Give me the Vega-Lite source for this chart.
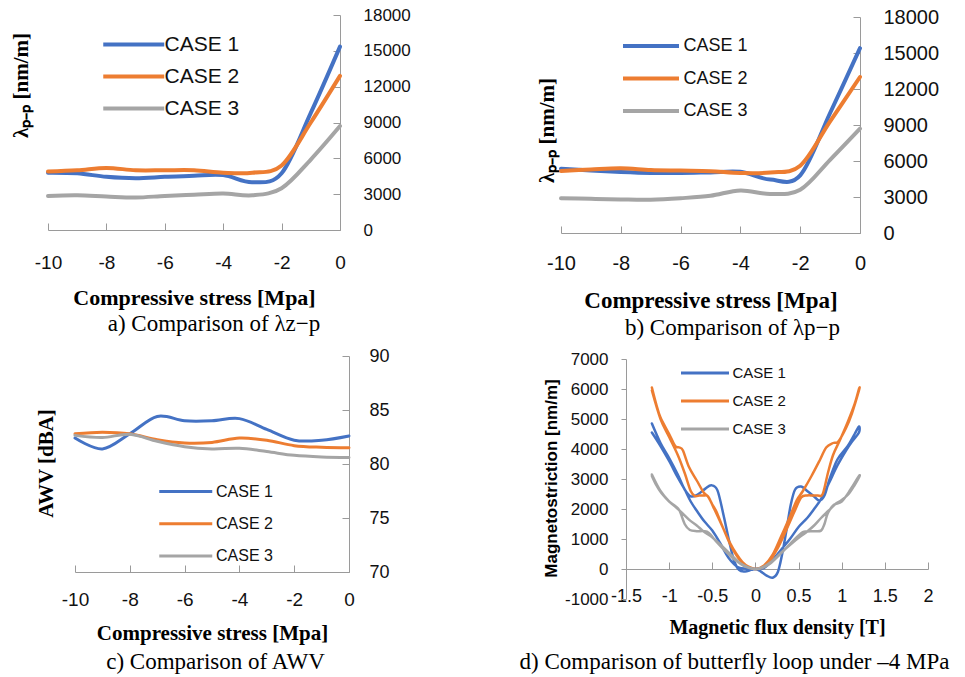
{
  "$schema": "https://vega.github.io/schema/vega-lite/v6.json",
  "background": "white",
  "autosize": {"type": "pad"},
  "padding": {"left": 10, "top": 6, "right": 5, "bottom": 5},
  "columns": 2,
  "spacing": {"row": 123, "column": 212},
  "bounds": "flush",
  "align": "each",
  "resolve": {"scale": {"x": "independent", "y": "independent", "color": "independent"}, "legend": {"color": "independent"}},
  "config": {
    "view": {"stroke": null},
    "axis": {"grid": false, "domainColor": "#9a9a9a", "tickColor": "#9a9a9a", "labelColor": "#111", "titleColor": "#000", "labelFont": "Liberation Sans", "titleFont": "Liberation Serif", "titleFontWeight": "bold", "labelOverlap": false, "labelFlush": false},
    "legend": {"labelFont": "Liberation Sans", "labelColor": "#111", "padding": 0, "symbolType": "M-3,0H1", "title": null},
    "title": {"font": "Liberation Serif", "fontWeight": "normal", "color": "#000", "orient": "bottom", "anchor": "middle", "frame": "group"}
  },
  "datasets": {
    "a": [
      {"x": -10, "c": "CASE 1", "y": 4800}, {"x": -10, "c": "CASE 2", "y": 4900}, {"x": -10, "c": "CASE 3", "y": 2850},
      {"x": -9, "c": "CASE 1", "y": 4750}, {"x": -9, "c": "CASE 2", "y": 5000}, {"x": -9, "c": "CASE 3", "y": 2900},
      {"x": -8, "c": "CASE 1", "y": 4450}, {"x": -8, "c": "CASE 2", "y": 5200}, {"x": -8, "c": "CASE 3", "y": 2800},
      {"x": -7, "c": "CASE 1", "y": 4330}, {"x": -7, "c": "CASE 2", "y": 5000}, {"x": -7, "c": "CASE 3", "y": 2720},
      {"x": -6, "c": "CASE 1", "y": 4450}, {"x": -6, "c": "CASE 2", "y": 5000}, {"x": -6, "c": "CASE 3", "y": 2850},
      {"x": -5, "c": "CASE 1", "y": 4550}, {"x": -5, "c": "CASE 2", "y": 5000}, {"x": -5, "c": "CASE 3", "y": 2950},
      {"x": -4, "c": "CASE 1", "y": 4600}, {"x": -4, "c": "CASE 2", "y": 4800}, {"x": -4, "c": "CASE 3", "y": 3050},
      {"x": -3, "c": "CASE 1", "y": 4000}, {"x": -3, "c": "CASE 2", "y": 4800}, {"x": -3, "c": "CASE 3", "y": 2900},
      {"x": -2, "c": "CASE 1", "y": 4750}, {"x": -2, "c": "CASE 2", "y": 5400}, {"x": -2, "c": "CASE 3", "y": 3500},
      {"x": -1, "c": "CASE 1", "y": 9800}, {"x": -1, "c": "CASE 2", "y": 9000}, {"x": -1, "c": "CASE 3", "y": 5900},
      {"x": 0, "c": "CASE 1", "y": 15350}, {"x": 0, "c": "CASE 2", "y": 12900}, {"x": 0, "c": "CASE 3", "y": 8700}
    ],
    "b": [
      {"x": -10, "c": "CASE 1", "y": 5360}, {"x": -10, "c": "CASE 2", "y": 5170}, {"x": -10, "c": "CASE 3", "y": 2900},
      {"x": -9, "c": "CASE 1", "y": 5200}, {"x": -9, "c": "CASE 2", "y": 5300}, {"x": -9, "c": "CASE 3", "y": 2850},
      {"x": -8, "c": "CASE 1", "y": 5080}, {"x": -8, "c": "CASE 2", "y": 5400}, {"x": -8, "c": "CASE 3", "y": 2800},
      {"x": -7, "c": "CASE 1", "y": 5000}, {"x": -7, "c": "CASE 2", "y": 5250}, {"x": -7, "c": "CASE 3", "y": 2780},
      {"x": -6, "c": "CASE 1", "y": 5000}, {"x": -6, "c": "CASE 2", "y": 5200}, {"x": -6, "c": "CASE 3", "y": 2900},
      {"x": -5, "c": "CASE 1", "y": 5050}, {"x": -5, "c": "CASE 2", "y": 5150}, {"x": -5, "c": "CASE 3", "y": 3100},
      {"x": -4, "c": "CASE 1", "y": 5100}, {"x": -4, "c": "CASE 2", "y": 5000}, {"x": -4, "c": "CASE 3", "y": 3550},
      {"x": -3, "c": "CASE 1", "y": 4450}, {"x": -3, "c": "CASE 2", "y": 5050}, {"x": -3, "c": "CASE 3", "y": 3250},
      {"x": -2, "c": "CASE 1", "y": 4800}, {"x": -2, "c": "CASE 2", "y": 5600}, {"x": -2, "c": "CASE 3", "y": 3600},
      {"x": -1, "c": "CASE 1", "y": 10000}, {"x": -1, "c": "CASE 2", "y": 9300}, {"x": -1, "c": "CASE 3", "y": 6100},
      {"x": 0, "c": "CASE 1", "y": 15400}, {"x": 0, "c": "CASE 2", "y": 13000}, {"x": 0, "c": "CASE 3", "y": 8700}
    ],
    "c": [
      {"x": -10, "c": "CASE 1", "y": 82.4}, {"x": -10, "c": "CASE 2", "y": 82.8}, {"x": -10, "c": "CASE 3", "y": 82.65},
      {"x": -9, "c": "CASE 1", "y": 81.4}, {"x": -9, "c": "CASE 2", "y": 82.95}, {"x": -9, "c": "CASE 3", "y": 82.45},
      {"x": -8, "c": "CASE 1", "y": 82.8}, {"x": -8, "c": "CASE 2", "y": 82.8}, {"x": -8, "c": "CASE 3", "y": 82.75},
      {"x": -7, "c": "CASE 1", "y": 84.4}, {"x": -7, "c": "CASE 2", "y": 82.25}, {"x": -7, "c": "CASE 3", "y": 82.1},
      {"x": -6, "c": "CASE 1", "y": 84.0}, {"x": -6, "c": "CASE 2", "y": 81.95}, {"x": -6, "c": "CASE 3", "y": 81.6},
      {"x": -5, "c": "CASE 1", "y": 84.0}, {"x": -5, "c": "CASE 2", "y": 82.0}, {"x": -5, "c": "CASE 3", "y": 81.4},
      {"x": -4, "c": "CASE 1", "y": 84.2}, {"x": -4, "c": "CASE 2", "y": 82.4}, {"x": -4, "c": "CASE 3", "y": 81.45},
      {"x": -3, "c": "CASE 1", "y": 83.2}, {"x": -3, "c": "CASE 2", "y": 82.2}, {"x": -3, "c": "CASE 3", "y": 81.15},
      {"x": -2, "c": "CASE 1", "y": 82.2}, {"x": -2, "c": "CASE 2", "y": 81.7}, {"x": -2, "c": "CASE 3", "y": 80.8},
      {"x": -1, "c": "CASE 1", "y": 82.2}, {"x": -1, "c": "CASE 2", "y": 81.55}, {"x": -1, "c": "CASE 3", "y": 80.65},
      {"x": 0, "c": "CASE 1", "y": 82.6}, {"x": 0, "c": "CASE 2", "y": 81.5}, {"x": 0, "c": "CASE 3", "y": 80.6}
    ],
    "d": [
      {"c": "CASE 1", "o": 1, "b": -1.2, "l": 4850}, {"c": "CASE 1", "o": 2, "b": -1.1, "l": 4200}, {"c": "CASE 1", "o": 3, "b": -1.0, "l": 3700},
      {"c": "CASE 1", "o": 4, "b": -0.9, "l": 3150}, {"c": "CASE 1", "o": 5, "b": -0.82, "l": 2650}, {"c": "CASE 1", "o": 6, "b": -0.75, "l": 2420},
      {"c": "CASE 1", "o": 7, "b": -0.67, "l": 2480}, {"c": "CASE 1", "o": 8, "b": -0.58, "l": 2680}, {"c": "CASE 1", "o": 9, "b": -0.51, "l": 2790},
      {"c": "CASE 1", "o": 10, "b": -0.44, "l": 2620}, {"c": "CASE 1", "o": 11, "b": -0.37, "l": 1800}, {"c": "CASE 1", "o": 12, "b": -0.31, "l": 1000},
      {"c": "CASE 1", "o": 13, "b": -0.25, "l": 300}, {"c": "CASE 1", "o": 14, "b": -0.19, "l": -30}, {"c": "CASE 1", "o": 15, "b": -0.12, "l": -80},
      {"c": "CASE 1", "o": 16, "b": -0.05, "l": -30}, {"c": "CASE 1", "o": 17, "b": 0, "l": 0}, {"c": "CASE 1", "o": 18, "b": 0.1, "l": 40},
      {"c": "CASE 1", "o": 19, "b": 0.2, "l": 300}, {"c": "CASE 1", "o": 20, "b": 0.3, "l": 650}, {"c": "CASE 1", "o": 21, "b": 0.4, "l": 1000},
      {"c": "CASE 1", "o": 22, "b": 0.5, "l": 1400}, {"c": "CASE 1", "o": 23, "b": 0.6, "l": 1700}, {"c": "CASE 1", "o": 24, "b": 0.68, "l": 2000},
      {"c": "CASE 1", "o": 25, "b": 0.76, "l": 2330}, {"c": "CASE 1", "o": 26, "b": 0.85, "l": 2850}, {"c": "CASE 1", "o": 27, "b": 0.95, "l": 3450},
      {"c": "CASE 1", "o": 28, "b": 1.05, "l": 3950}, {"c": "CASE 1", "o": 29, "b": 1.12, "l": 4250}, {"c": "CASE 1", "o": 30, "b": 1.2, "l": 4550},
      {"c": "CASE 1", "o": 31, "b": 1.2, "l": 4750}, {"c": "CASE 1", "o": 32, "b": 1.15, "l": 4500}, {"c": "CASE 1", "o": 33, "b": 1.07, "l": 4100},
      {"c": "CASE 1", "o": 34, "b": 0.95, "l": 3650}, {"c": "CASE 1", "o": 35, "b": 0.86, "l": 3000}, {"c": "CASE 1", "o": 36, "b": 0.8, "l": 2450},
      {"c": "CASE 1", "o": 37, "b": 0.74, "l": 2280}, {"c": "CASE 1", "o": 38, "b": 0.68, "l": 2420}, {"c": "CASE 1", "o": 39, "b": 0.6, "l": 2600},
      {"c": "CASE 1", "o": 40, "b": 0.53, "l": 2750}, {"c": "CASE 1", "o": 41, "b": 0.46, "l": 2650}, {"c": "CASE 1", "o": 42, "b": 0.41, "l": 2150},
      {"c": "CASE 1", "o": 43, "b": 0.36, "l": 1300}, {"c": "CASE 1", "o": 44, "b": 0.31, "l": 500}, {"c": "CASE 1", "o": 45, "b": 0.26, "l": -100},
      {"c": "CASE 1", "o": 46, "b": 0.2, "l": -290}, {"c": "CASE 1", "o": 47, "b": 0.13, "l": -220}, {"c": "CASE 1", "o": 48, "b": 0.06, "l": -80},
      {"c": "CASE 1", "o": 49, "b": 0, "l": 0}, {"c": "CASE 1", "o": 50, "b": -0.1, "l": 10}, {"c": "CASE 1", "o": 51, "b": -0.2, "l": 60},
      {"c": "CASE 1", "o": 52, "b": -0.31, "l": 370}, {"c": "CASE 1", "o": 53, "b": -0.4, "l": 820}, {"c": "CASE 1", "o": 54, "b": -0.5, "l": 1280},
      {"c": "CASE 1", "o": 55, "b": -0.59, "l": 1580}, {"c": "CASE 1", "o": 56, "b": -0.67, "l": 1900}, {"c": "CASE 1", "o": 57, "b": -0.75, "l": 2250},
      {"c": "CASE 1", "o": 58, "b": -0.82, "l": 2650}, {"c": "CASE 1", "o": 59, "b": -0.9, "l": 3050}, {"c": "CASE 1", "o": 60, "b": -1.0, "l": 3600},
      {"c": "CASE 1", "o": 61, "b": -1.1, "l": 4100}, {"c": "CASE 1", "o": 62, "b": -1.2, "l": 4550},

      {"c": "CASE 2", "o": 1, "b": -1.2, "l": 6050}, {"c": "CASE 2", "o": 2, "b": -1.15, "l": 5500}, {"c": "CASE 2", "o": 3, "b": -1.1, "l": 5050},
      {"c": "CASE 2", "o": 4, "b": -1.0, "l": 4500}, {"c": "CASE 2", "o": 5, "b": -0.93, "l": 4100}, {"c": "CASE 2", "o": 6, "b": -0.88, "l": 4050},
      {"c": "CASE 2", "o": 7, "b": -0.84, "l": 3950}, {"c": "CASE 2", "o": 8, "b": -0.77, "l": 3400}, {"c": "CASE 2", "o": 9, "b": -0.68, "l": 2950},
      {"c": "CASE 2", "o": 10, "b": -0.6, "l": 2550}, {"c": "CASE 2", "o": 11, "b": -0.55, "l": 2420}, {"c": "CASE 2", "o": 12, "b": -0.5, "l": 2150},
      {"c": "CASE 2", "o": 13, "b": -0.45, "l": 1900}, {"c": "CASE 2", "o": 14, "b": -0.38, "l": 1400}, {"c": "CASE 2", "o": 15, "b": -0.3, "l": 900},
      {"c": "CASE 2", "o": 16, "b": -0.22, "l": 500}, {"c": "CASE 2", "o": 17, "b": -0.15, "l": 230}, {"c": "CASE 2", "o": 18, "b": -0.07, "l": 50},
      {"c": "CASE 2", "o": 19, "b": 0, "l": 0}, {"c": "CASE 2", "o": 20, "b": 0.1, "l": 120}, {"c": "CASE 2", "o": 21, "b": 0.2, "l": 480},
      {"c": "CASE 2", "o": 22, "b": 0.3, "l": 1100}, {"c": "CASE 2", "o": 23, "b": 0.4, "l": 1750}, {"c": "CASE 2", "o": 24, "b": 0.48, "l": 2300},
      {"c": "CASE 2", "o": 25, "b": 0.55, "l": 2600}, {"c": "CASE 2", "o": 26, "b": 0.65, "l": 3100}, {"c": "CASE 2", "o": 27, "b": 0.75, "l": 3650},
      {"c": "CASE 2", "o": 28, "b": 0.82, "l": 4050}, {"c": "CASE 2", "o": 29, "b": 0.9, "l": 4200}, {"c": "CASE 2", "o": 30, "b": 0.96, "l": 4250},
      {"c": "CASE 2", "o": 31, "b": 1.05, "l": 4700}, {"c": "CASE 2", "o": 32, "b": 1.12, "l": 5200}, {"c": "CASE 2", "o": 33, "b": 1.2, "l": 5950},
      {"c": "CASE 2", "o": 34, "b": 1.2, "l": 6000}, {"c": "CASE 2", "o": 35, "b": 1.15, "l": 5500}, {"c": "CASE 2", "o": 36, "b": 1.07, "l": 4900},
      {"c": "CASE 2", "o": 37, "b": 0.98, "l": 4300}, {"c": "CASE 2", "o": 38, "b": 0.9, "l": 3800}, {"c": "CASE 2", "o": 39, "b": 0.84, "l": 3200},
      {"c": "CASE 2", "o": 40, "b": 0.78, "l": 2500}, {"c": "CASE 2", "o": 41, "b": 0.72, "l": 2450}, {"c": "CASE 2", "o": 42, "b": 0.66, "l": 2450},
      {"c": "CASE 2", "o": 43, "b": 0.6, "l": 2450}, {"c": "CASE 2", "o": 44, "b": 0.53, "l": 2380}, {"c": "CASE 2", "o": 45, "b": 0.45, "l": 1900},
      {"c": "CASE 2", "o": 46, "b": 0.35, "l": 1250}, {"c": "CASE 2", "o": 47, "b": 0.25, "l": 650}, {"c": "CASE 2", "o": 48, "b": 0.15, "l": 200},
      {"c": "CASE 2", "o": 49, "b": 0.07, "l": 40}, {"c": "CASE 2", "o": 50, "b": 0, "l": 0}, {"c": "CASE 2", "o": 51, "b": -0.08, "l": 80},
      {"c": "CASE 2", "o": 52, "b": -0.17, "l": 260}, {"c": "CASE 2", "o": 53, "b": -0.28, "l": 750}, {"c": "CASE 2", "o": 54, "b": -0.38, "l": 1400},
      {"c": "CASE 2", "o": 55, "b": -0.49, "l": 2080}, {"c": "CASE 2", "o": 56, "b": -0.55, "l": 2420}, {"c": "CASE 2", "o": 57, "b": -0.6, "l": 2450},
      {"c": "CASE 2", "o": 58, "b": -0.65, "l": 2450}, {"c": "CASE 2", "o": 59, "b": -0.7, "l": 2430}, {"c": "CASE 2", "o": 60, "b": -0.75, "l": 2600},
      {"c": "CASE 2", "o": 61, "b": -0.82, "l": 3200}, {"c": "CASE 2", "o": 62, "b": -0.9, "l": 3800}, {"c": "CASE 2", "o": 63, "b": -1.0, "l": 4400},
      {"c": "CASE 2", "o": 64, "b": -1.1, "l": 5000}, {"c": "CASE 2", "o": 65, "b": -1.2, "l": 5950},

      {"c": "CASE 3", "o": 1, "b": -1.2, "l": 3100}, {"c": "CASE 3", "o": 2, "b": -1.15, "l": 2800}, {"c": "CASE 3", "o": 3, "b": -1.09, "l": 2530},
      {"c": "CASE 3", "o": 4, "b": -1.0, "l": 2250}, {"c": "CASE 3", "o": 5, "b": -0.93, "l": 2100}, {"c": "CASE 3", "o": 6, "b": -0.88, "l": 1950},
      {"c": "CASE 3", "o": 7, "b": -0.82, "l": 1500}, {"c": "CASE 3", "o": 8, "b": -0.76, "l": 1300}, {"c": "CASE 3", "o": 9, "b": -0.68, "l": 1260},
      {"c": "CASE 3", "o": 10, "b": -0.6, "l": 1260}, {"c": "CASE 3", "o": 11, "b": -0.54, "l": 1200}, {"c": "CASE 3", "o": 12, "b": -0.45, "l": 900},
      {"c": "CASE 3", "o": 13, "b": -0.35, "l": 600}, {"c": "CASE 3", "o": 14, "b": -0.25, "l": 330}, {"c": "CASE 3", "o": 15, "b": -0.15, "l": 130},
      {"c": "CASE 3", "o": 16, "b": -0.07, "l": 30}, {"c": "CASE 3", "o": 17, "b": 0, "l": 0}, {"c": "CASE 3", "o": 18, "b": 0.08, "l": 40},
      {"c": "CASE 3", "o": 19, "b": 0.18, "l": 200}, {"c": "CASE 3", "o": 20, "b": 0.32, "l": 590}, {"c": "CASE 3", "o": 21, "b": 0.45, "l": 980},
      {"c": "CASE 3", "o": 22, "b": 0.55, "l": 1230}, {"c": "CASE 3", "o": 23, "b": 0.6, "l": 1250}, {"c": "CASE 3", "o": 24, "b": 0.68, "l": 1260},
      {"c": "CASE 3", "o": 25, "b": 0.76, "l": 1280}, {"c": "CASE 3", "o": 26, "b": 0.8, "l": 1500}, {"c": "CASE 3", "o": 27, "b": 0.84, "l": 1870},
      {"c": "CASE 3", "o": 28, "b": 0.91, "l": 2140}, {"c": "CASE 3", "o": 29, "b": 1.0, "l": 2250}, {"c": "CASE 3", "o": 30, "b": 1.1, "l": 2640},
      {"c": "CASE 3", "o": 31, "b": 1.2, "l": 3100}, {"c": "CASE 3", "o": 32, "b": 1.2, "l": 3050}, {"c": "CASE 3", "o": 33, "b": 1.15, "l": 2800},
      {"c": "CASE 3", "o": 34, "b": 1.08, "l": 2500}, {"c": "CASE 3", "o": 35, "b": 1.0, "l": 2300}, {"c": "CASE 3", "o": 36, "b": 0.92, "l": 2150},
      {"c": "CASE 3", "o": 37, "b": 0.85, "l": 1950}, {"c": "CASE 3", "o": 38, "b": 0.76, "l": 1700}, {"c": "CASE 3", "o": 39, "b": 0.68, "l": 1450},
      {"c": "CASE 3", "o": 40, "b": 0.6, "l": 1250}, {"c": "CASE 3", "o": 41, "b": 0.52, "l": 1080}, {"c": "CASE 3", "o": 42, "b": 0.42, "l": 850},
      {"c": "CASE 3", "o": 43, "b": 0.3, "l": 550}, {"c": "CASE 3", "o": 44, "b": 0.18, "l": 230}, {"c": "CASE 3", "o": 45, "b": 0.08, "l": 50},
      {"c": "CASE 3", "o": 46, "b": 0, "l": 0}, {"c": "CASE 3", "o": 47, "b": -0.08, "l": 50}, {"c": "CASE 3", "o": 48, "b": -0.18, "l": 200},
      {"c": "CASE 3", "o": 49, "b": -0.3, "l": 520}, {"c": "CASE 3", "o": 50, "b": -0.42, "l": 850}, {"c": "CASE 3", "o": 51, "b": -0.52, "l": 1100},
      {"c": "CASE 3", "o": 52, "b": -0.6, "l": 1250}, {"c": "CASE 3", "o": 53, "b": -0.68, "l": 1450}, {"c": "CASE 3", "o": 54, "b": -0.76, "l": 1620},
      {"c": "CASE 3", "o": 55, "b": -0.85, "l": 1870}, {"c": "CASE 3", "o": 56, "b": -0.93, "l": 2080}, {"c": "CASE 3", "o": 57, "b": -1.0, "l": 2250},
      {"c": "CASE 3", "o": 58, "b": -1.1, "l": 2600}, {"c": "CASE 3", "o": 59, "b": -1.2, "l": 3150}
    ]
  },
  "concat": [
    {
      "width": 292, "height": 215,
      "data": {"name": "a"},
      "title": {"text": "a) Comparison of λz−p", "fontSize": 23, "offset": 4, "dx": 20, "dy": 1},
      "mark": {"type": "line", "interpolate": "cardinal", "strokeWidth": 4, "strokeCap": "round"},
      "encoding": {
        "x": {"field": "x", "type": "quantitative", "scale": {"domain": [-10, 0], "nice": false, "zero": false},
          "axis": {"values": [-10, -8, -6, -4, -2, 0], "labelExpr": "datum.value < 0 ? '-' + abs(datum.value) : '' + datum.value", "labelFontSize": 19, "labelBaseline": "middle", "tickSize": -7, "labelPadding": 39,
            "title": "Compressive stress [Mpa]", "titleFontSize": 22, "titleY": 67, "titleBaseline": "middle"}},
        "y": {"field": "y", "type": "quantitative", "scale": {"domain": [0, 18000], "nice": false},
          "axis": {"orient": "right", "values": [0, 3000, 6000, 9000, 12000, 15000, 18000], "format": "d", "labelFontSize": 17, "tickSize": -7, "labelPadding": 30,
            "title": "λₚ₋ₚ [nm/m]", "titleFontSize": 21, "titleAngle": -90, "titleX": -319, "titleY": 70, "titleAlign": "center", "titleBaseline": "middle"}},
        "color": {"field": "c", "type": "nominal", "scale": {"domain": ["CASE 1", "CASE 2", "CASE 3"], "range": ["#4472C4", "#ED7D31", "#A5A5A5"]},
          "legend": {"orient": "none", "legendX": 83.5, "legendY": 12, "symbolSize": 930, "symbolStrokeWidth": 4, "labelFontSize": 21, "labelOffset": -2, "rowPadding": 4}}
      }
    },
    {
      "width": 299, "height": 218,
      "data": {"name": "b"},
      "title": {"text": "b) Comparison of λp−p", "fontSize": 23, "offset": 4, "dx": 22, "dy": 1},
      "mark": {"type": "line", "interpolate": "cardinal", "strokeWidth": 4, "strokeCap": "round"},
      "encoding": {
        "x": {"field": "x", "type": "quantitative", "scale": {"domain": [-10, 0], "nice": false, "zero": false},
          "axis": {"values": [-10, -8, -6, -4, -2, 0], "labelExpr": "datum.value < 0 ? '-' + abs(datum.value) : '' + datum.value", "labelFontSize": 20, "labelBaseline": "middle", "tickSize": -7, "labelPadding": 37,
            "title": "Compressive stress [Mpa]", "titleFontSize": 23, "titleY": 67, "titleBaseline": "middle"}},
        "y": {"field": "y", "type": "quantitative", "scale": {"domain": [0, 18000], "nice": false, "range": [218, 2]},
          "axis": {"orient": "right", "values": [0, 3000, 6000, 9000, 12000, 15000, 18000], "format": "d", "labelFontSize": 20, "tickSize": -7, "labelPadding": 30,
            "title": "λₚ₋ₚ [nm/m]", "titleFontSize": 21, "titleAngle": -90, "titleX": -313, "titleY": 115, "titleAlign": "center", "titleBaseline": "middle"}},
        "color": {"field": "c", "type": "nominal", "scale": {"domain": ["CASE 1", "CASE 2", "CASE 3"], "range": ["#4472C4", "#ED7D31", "#A5A5A5"]},
          "legend": {"orient": "none", "legendX": 88, "legendY": 15, "symbolSize": 784, "symbolStrokeWidth": 4, "labelFontSize": 18, "labelOffset": 2.5, "rowPadding": 7.5}}
      }
    },
    {
      "width": 301, "height": 216,
      "data": {"name": "c"},
      "title": {"text": "c) Comparison of AWV", "fontSize": 23, "offset": 4, "dx": 17, "dy": 4},
      "mark": {"type": "line", "interpolate": "cardinal", "strokeWidth": 3, "strokeCap": "round"},
      "encoding": {
        "x": {"field": "x", "type": "quantitative", "scale": {"domain": [-10, 0], "nice": false, "zero": false, "range": [27, 301]},
          "axis": {"values": [-10, -8, -6, -4, -2, 0], "labelExpr": "datum.value < 0 ? '-' + abs(datum.value) : '' + datum.value", "labelFontSize": 19, "labelBaseline": "middle", "tickSize": -7, "labelPadding": 34,
            "title": "Compressive stress [Mpa]", "titleFontSize": 21, "titleY": 61, "titleBaseline": "middle"}},
        "y": {"field": "y", "type": "quantitative", "scale": {"domain": [70, 90], "nice": false, "zero": false},
          "axis": {"orient": "right", "values": [70, 75, 80, 85, 90], "labelFontSize": 18, "tickSize": -7, "labelPadding": 27,
            "title": "AWV [dBA]", "titleFontSize": 21, "titleAngle": -90, "titleX": -303, "titleY": 107, "titleAlign": "center", "titleBaseline": "middle"}},
        "color": {"field": "c", "type": "nominal", "scale": {"domain": ["CASE 1", "CASE 2", "CASE 3"], "range": ["#4472C4", "#ED7D31", "#A5A5A5"]},
          "legend": {"orient": "none", "legendX": 136, "legendY": 120.5, "symbolSize": 702, "symbolStrokeWidth": 3, "labelFontSize": 16, "labelOffset": 2, "rowPadding": 9.3}}
      }
    },
    {
      "width": 367, "height": 243,
      "data": {"name": "d"},
      "title": {"text": "d) Comparison of butterfly loop under –4 MPa", "fontSize": 23, "offset": 4, "dx": -10, "dy": 10},
      "mark": {"type": "line", "interpolate": "cardinal", "strokeWidth": 2.5, "strokeCap": "round", "strokeJoin": "round"},
      "encoding": {
        "x": {"field": "b", "type": "quantitative", "scale": {"domain": [-1.5, 2], "nice": false, "zero": false, "range": [65, 367]},
          "axis": {"values": [-1.5, -1, -0.5, 0, 0.5, 1, 1.5, 2], "offset": -30, "labelExpr": "datum.value < 0 ? '-' + abs(datum.value) : '' + datum.value", "labelFontSize": 18, "labelBaseline": "middle", "tickSize": -7, "labelPadding": 34,
            "title": "Magnetic flux density [T]", "titleFontSize": 20, "titleY": 58, "titleBaseline": "middle"}},
        "y": {"field": "l", "type": "quantitative", "scale": {"domain": [-1000, 7000], "nice": false, "zero": false, "range": [243, 3]},
          "axis": {"orient": "left", "offset": -65, "values": [-1000, 0, 1000, 2000, 3000, 4000, 5000, 6000, 7000], "labelExpr": "datum.value < 0 ? '-' + abs(datum.value) : '' + datum.value", "labelFontSize": 17, "tickSize": 5, "labelPadding": 13,
            "title": "Magnetostriction [nm/m]", "titleFont": "Liberation Sans", "titleFontSize": 17, "titleAngle": -90, "titleX": -75, "titleY": 122, "titleAlign": "center", "titleBaseline": "middle"}},
        "order": {"field": "o", "type": "quantitative"},
        "color": {"field": "c", "type": "nominal", "scale": {"domain": ["CASE 1", "CASE 2", "CASE 3"], "range": ["#4472C4", "#ED7D31", "#A5A5A5"]},
          "legend": {"orient": "none", "legendX": 142.5, "legendY": 3.5, "symbolSize": 576, "symbolStrokeWidth": 3, "labelFontSize": 15, "labelOffset": 2, "rowPadding": 6}}
      }
    }
  ]
}
